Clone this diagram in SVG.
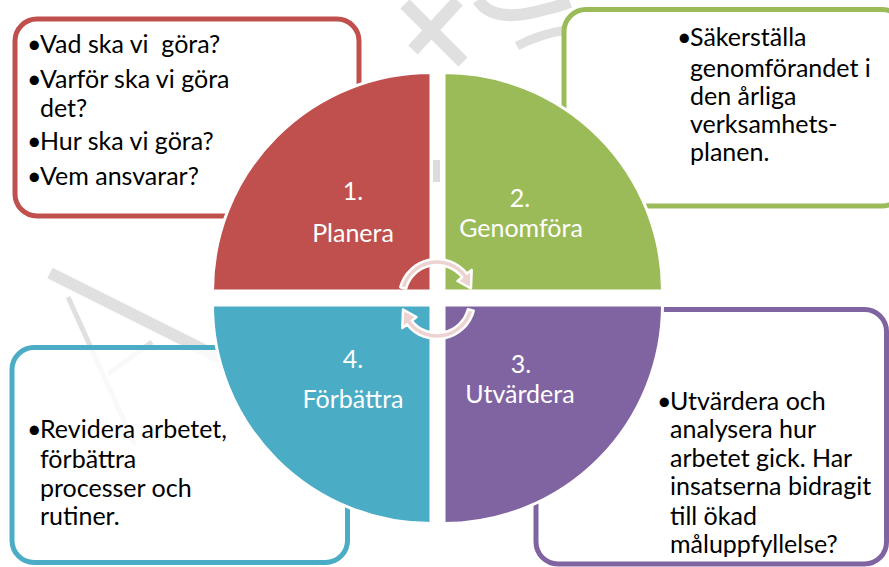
<svg xmlns="http://www.w3.org/2000/svg" width="889" height="567" viewBox="0 0 889 567">
<style>
.wm{fill:none;stroke:#e0e0e0;stroke-linecap:butt}
.box{fill:#fff;fill-opacity:0.8;stroke-width:5}
.q{stroke:#fff;stroke-width:3}
.bt{font-family:Lato,"Open Sans",sans-serif;font-size:25px;fill:#000}
.ql{font-family:Lato,"Open Sans",sans-serif;font-size:25px;fill:#fff;text-anchor:middle}
.arr{fill:#ecd3d2;stroke:#fff;stroke-width:2.5;stroke-linejoin:round}
</style>
<rect width="889" height="567" fill="#fff"/>
<g id="watermark">
<line class="wm" x1="50" y1="273" x2="232" y2="364" stroke-width="12"/>
<line class="wm" x1="68" y1="297" x2="135" y2="445" stroke-width="5"/>
<line class="wm" x1="108" y1="374" x2="152" y2="342" stroke-width="5"/>
<line class="wm" x1="405" y1="4" x2="463" y2="62" stroke-width="13"/>
<line class="wm" x1="458" y1="1" x2="413" y2="50" stroke-width="13"/>
<path class="wm" d="M478,0 Q492,22 535,12 Q560,6 570,2" stroke-width="12"/>
<path class="wm" d="M517,46 Q540,34 566,30" stroke-width="9"/>
<rect x="433" y="160" width="7" height="22" fill="#dcdcdc"/>
</g>
<g id="box-planera">
<rect class="box" x="15" y="19" width="344" height="197" rx="22" stroke="#c0504d"/>
<text class="bt" x="27" y="53" style="white-space:pre">•<tspan x="40">Vad ska vi  göra?</tspan></text>
<text class="bt" x="27" y="88">•<tspan x="40">Varför ska vi göra</tspan></text>
<text class="bt" x="40" y="117">det?</text>
<text class="bt" x="27" y="150">•<tspan x="40">Hur ska vi göra?</tspan></text>
<text class="bt" x="27" y="185">•<tspan x="40">Vem ansvarar?</tspan></text>
</g>
<g id="box-genomfora">
<rect class="box" x="564" y="9.5" width="340" height="196.5" rx="22" stroke="#9bbb59"/>
<text class="bt" x="677" y="46">•<tspan x="690">Säkerställa</tspan></text>
<text class="bt" x="690" y="77">genomförandet i</text>
<text class="bt" x="690" y="105">den årliga</text>
<text class="bt" x="690" y="133">verksamhets-</text>
<text class="bt" x="690" y="161">planen.</text>
</g>
<g id="box-forbattra">
<rect class="box" x="12" y="347.5" width="335.5" height="215" rx="22" stroke="#4bacc6"/>
<text class="bt" x="27" y="438">•<tspan x="40">Revidera arbetet,</tspan></text>
<text class="bt" x="40" y="468">förbättra</text>
<text class="bt" x="40" y="497">processer och</text>
<text class="bt" x="40" y="525">rutiner.</text>
</g>
<g id="box-utvardera">
<rect class="box" x="536" y="309.5" width="350.5" height="254.5" rx="22" stroke="#8064a2"/>
<text class="bt" x="657" y="410">•<tspan x="670">Utvärdera och</tspan></text>
<text class="bt" x="670" y="438">analysera hur</text>
<text class="bt" x="670" y="467">arbetet gick. Har</text>
<text class="bt" x="670" y="495">insatserna bidragit</text>
<text class="bt" x="670" y="525">till ökad</text>
<text class="bt" x="670" y="553">måluppfyllelse?</text>
</g>
<g id="q1-planera">
<path class="q" fill="#c0504d" d="M431,291 L212.5,291 A218.5,218.5 0 0 1 431,72.5 Z"/>
<text class="ql" x="353" y="200">1.</text>
<text class="ql" x="353" y="242">Planera</text>
</g>
<g id="q2-genomfora">
<path class="q" fill="#9bbb59" d="M444,291 L444,72.5 A218.5,218.5 0 0 1 662.5,291 Z"/>
<text class="ql" x="520" y="207">2.</text>
<text class="ql" x="521" y="237">Genomföra</text>
</g>
<g id="q3-utvardera">
<path class="q" fill="#8064a2" d="M444,305 L662.5,305 A218.5,218.5 0 0 1 444,523.5 Z"/>
<text class="ql" x="521" y="373">3.</text>
<text class="ql" x="520" y="403">Utvärdera</text>
</g>
<g id="q4-forbattra">
<path class="q" fill="#4bacc6" d="M431,305 L431,523.5 A218.5,218.5 0 0 1 212.5,305 Z"/>
<text class="ql" x="353" y="368">4.</text>
<text class="ql" x="353" y="408">Förbättra</text>
</g>
<g id="connectors">
<path class="arr" d="M400.3,287.17 A38,38 0 0 1 466.95,273.6 L471.67,269.91 L470.96,288.53 L457.49,280.99 L462.22,277.3 A32,32 0 0 0 406.09,288.72 Z"/>
<path class="arr" transform="rotate(180 437 299)" d="M400.3,287.17 A38,38 0 0 1 466.95,273.6 L471.67,269.91 L470.96,288.53 L457.49,280.99 L462.22,277.3 A32,32 0 0 0 406.09,288.72 Z"/>
</g>
</svg>
